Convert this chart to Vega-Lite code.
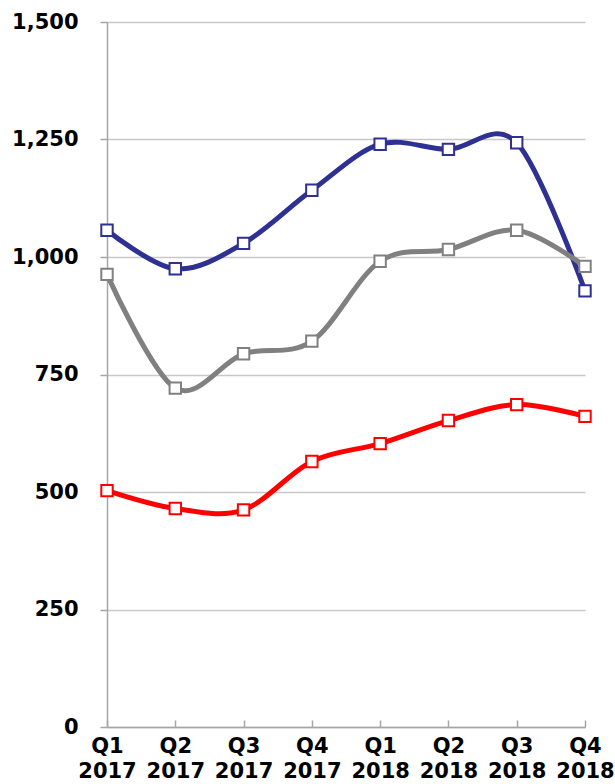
{
  "$schema": "https://vega.github.io/schema/vega-lite/v6.json",
  "autosize": "none",
  "width": 478,
  "height": 705,
  "padding": {"left": 107, "top": 22, "right": 30, "bottom": 57},
  "background": "white",
  "config": {
    "view": {"stroke": null},
    "axis": {"labelFont": "DejaVu Sans", "labelFontWeight": "bold", "labelFontSize": 21, "labelColor": "#000000", "domainColor": "#A6A6A6", "tickColor": "#A6A6A6", "domainWidth": 1.5, "tickWidth": 1.5, "gridColor": "#C8C8C8", "gridWidth": 1.5, "title": null}
  },
  "data": {
    "values": [
      {"q": "Q1 2017", "s": "A", "v": 1057}, {"q": "Q2 2017", "s": "A", "v": 975}, {"q": "Q3 2017", "s": "A", "v": 1029}, {"q": "Q4 2017", "s": "A", "v": 1142},
      {"q": "Q1 2018", "s": "A", "v": 1240}, {"q": "Q2 2018", "s": "A", "v": 1229}, {"q": "Q3 2018", "s": "A", "v": 1243}, {"q": "Q4 2018", "s": "A", "v": 928},
      {"q": "Q1 2017", "s": "B", "v": 963}, {"q": "Q2 2017", "s": "B", "v": 721}, {"q": "Q3 2017", "s": "B", "v": 794}, {"q": "Q4 2017", "s": "B", "v": 821},
      {"q": "Q1 2018", "s": "B", "v": 991}, {"q": "Q2 2018", "s": "B", "v": 1016}, {"q": "Q3 2018", "s": "B", "v": 1057}, {"q": "Q4 2018", "s": "B", "v": 980},
      {"q": "Q1 2017", "s": "C", "v": 503}, {"q": "Q2 2017", "s": "C", "v": 465}, {"q": "Q3 2017", "s": "C", "v": 462}, {"q": "Q4 2017", "s": "C", "v": 565},
      {"q": "Q1 2018", "s": "C", "v": 603}, {"q": "Q2 2018", "s": "C", "v": 652}, {"q": "Q3 2018", "s": "C", "v": 686}, {"q": "Q4 2018", "s": "C", "v": 661}
    ]
  },
  "encoding": {
    "x": {"field": "q", "type": "ordinal", "sort": null,
      "scale": {"type": "point", "padding": 0},
      "axis": {"labelAngle": 0, "labelExpr": "split(datum.value, ' ')", "labelLineHeight": 25, "labelBaseline": "top", "labelPadding": 15, "tickSize": -7, "grid": false}},
    "y": {"field": "v", "type": "quantitative",
      "scale": {"domain": [0, 1500], "nice": false},
      "axis": {"values": [0, 250, 500, 750, 1000, 1250, 1500], "format": ",.0f", "tickSize": 7, "labelPadding": 22, "grid": true}},
    "color": {"field": "s", "type": "nominal", "scale": {"domain": ["A", "B", "C"], "range": ["#2E3192", "#808080", "#FF0000"]}, "legend": null}
  },
  "layer": [
    {"mark": {"type": "line", "interpolate": "cardinal", "strokeWidth": 5}},
    {"mark": {"type": "point", "shape": "square", "filled": true, "fill": "white", "size": 130, "strokeWidth": 2, "opacity": 1},
      "encoding": {"stroke": {"field": "s", "type": "nominal", "scale": {"domain": ["A", "B", "C"], "range": ["#2E3192", "#808080", "#FF0000"]}, "legend": null}}}
  ]
}
